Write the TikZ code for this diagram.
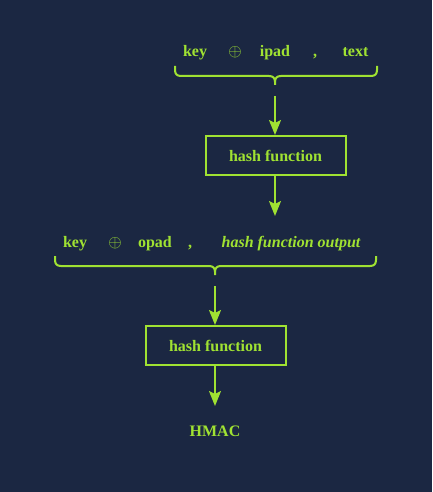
\documentclass[tikz,border=0pt]{standalone}
\usepackage{fontspec}
\setmainfont{Liberation Serif}
\usetikzlibrary{arrows.meta}
\definecolor{bg}{HTML}{1B2742}
\definecolor{lime}{HTML}{A0E232}
\tikzset{
  lbl/.style={text=lime,font=\bfseries\fontsize{16}{18}\selectfont,anchor=base,inner sep=0pt},
  hbox/.style={draw=lime,line width=2pt,minimum width=140pt,minimum height=39pt,text=lime,font=\bfseries\fontsize{16}{18}\selectfont,inner sep=0pt},
  arr/.style={draw=lime,line width=2pt,-{Stealth[length=15pt,width=12pt,inset=3pt]}},
  brc/.style={draw=lime,line width=2pt}
}
% #1 left x, #2 right x, #3 tip x, #4 top y
\newcommand\hbracepath[4]{%
  \draw[brc] (#1,#4) -- ++(0,4) .. controls +(0,4) and +(-4,0) .. ++(6,6) -- (#3-6,#4+10)
    .. controls +(4,0) and +(0,-4) .. (#3,#4+16) -- (#3,#4+19);
  \draw[brc] (#2,#4) -- ++(0,4) .. controls +(0,4) and +(4,0) .. ++(-6,6) -- (#3+6,#4+10)
    .. controls +(-4,0) and +(0,-4) .. (#3,#4+16);
}
\begin{document}
\begin{tikzpicture}[x=1pt,y=-1pt]
\fill[bg] (0,0) rectangle (432,492);
\useasboundingbox (0,0) rectangle (432,492);
% top row
\node[lbl] (k1) at (195,57) {key};
\node[lbl] (o1) at (235,57) {$\oplus$};
\node[lbl] (ip) at (275,57) {ipad};
\node[lbl] (c1) at (315,57) {,};
\node[lbl] (tx) at (355.5,57) {text};
\hbracepath{175}{377}{275}{66}
\coordinate (a1s) at (275,96);
\node[hbox] (h1) at (275.5,155.5) {hash function};
\draw[arr] (a1s) -- (h1.north -| a1s);
\coordinate (a2e) at (275,216);
\draw[arr] (h1.south -| a2e) -- (a2e);
% second row
\node[lbl] (k2) at (75,247) {key};
\node[lbl] (o2) at (115,247) {$\oplus$};
\node[lbl] (op) at (155,247) {opad};
\node[lbl] (c2) at (190,247) {,};
\node[lbl,font=\bfseries\itshape\fontsize{16}{18}\selectfont] (hf) at (291,247) {hash function output};
\hbracepath{55}{376}{215}{256}
\coordinate (a3s) at (215,286);
\node[hbox] (h2) at (215.5,345.5) {hash function};
\draw[arr] (a3s) -- (h2.north -| a3s);
\coordinate (a4e) at (215,406);
\draw[arr] (h2.south -| a4e) -- (a4e);
\node[lbl] (hm) at (215,436) {HMAC};
\end{tikzpicture}
\end{document}
